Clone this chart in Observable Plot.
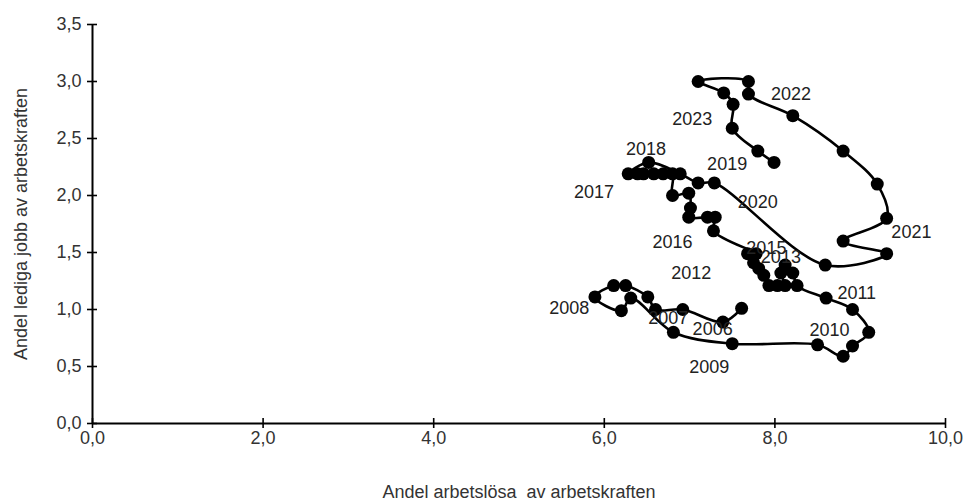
<!DOCTYPE html>
<html><head><meta charset="utf-8">
<script src="https://cdn.jsdelivr.net/npm/d3@7"></script>
<script src="https://cdn.jsdelivr.net/npm/@observablehq/plot@0.6"></script>
<style>body{margin:0;background:#fff;font-family:"Liberation Sans",Arial,sans-serif}</style>
</head><body><div id="chart"></div>
<script>
// Quarterly observations, in chronological order (2006 → 2023)
const unemployment = [
  7.61, 7.39, 6.92, 6.60, 6.51, 6.25, 6.11, 5.89, 6.20, 6.31, 6.81, 7.50,
  8.50, 8.80, 8.91, 9.10, 8.91, 8.60,
  8.26, 8.21, 8.12, 8.07, 8.12, 8.03, 7.93, 7.87, 7.81, 7.75, 7.68, 7.78,
  7.28, 7.30, 7.21, 6.99, 7.01, 6.99, 6.80,
  6.80, 6.69, 6.58, 6.46, 6.39, 6.28, 6.52, 6.89, 7.10, 7.29,
  8.59, 9.31, 8.80, 9.31, 9.20, 8.80, 8.21, 7.69, 7.69, 7.10, 7.40, 7.51, 7.50, 7.80, 7.99
];
const vacancies = [
  1.01, 0.89, 1.00, 1.00, 1.11, 1.21, 1.21, 1.11, 0.99, 1.10, 0.80, 0.70,
  0.69, 0.59, 0.68, 0.80, 1.00, 1.10,
  1.21, 1.32, 1.39, 1.32, 1.21, 1.21, 1.21, 1.30, 1.36, 1.41, 1.49, 1.49,
  1.69, 1.81, 1.81, 1.81, 1.89, 2.02, 2.00,
  2.19, 2.19, 2.19, 2.19, 2.19, 2.19, 2.29, 2.19, 2.11, 2.11,
  1.39, 1.49, 1.60, 1.80, 2.10, 2.39, 2.70, 2.89, 3.00, 3.00, 2.90, 2.80, 2.59, 2.39, 2.29
];
// Year labels and where they sit (data units)
const years  = ["2006","2007","2008","2009","2010","2011","2012","2013","2015","2016","2017","2018","2019","2020","2021","2022","2023"];
const yearX  = [7.27, 6.75, 5.59, 7.23, 8.64, 8.96, 7.02, 8.07, 7.90, 6.80, 5.88, 6.49, 7.44, 7.80, 9.60, 8.19, 7.03];
const yearY  = [0.83, 0.92, 1.01, 0.49, 0.82, 1.14, 1.32, 1.46, 1.54, 1.59, 2.03, 2.41, 2.27, 1.94, 1.68, 2.89, 2.67];
const xTicks = [0, 2, 4, 6, 8, 10];
const yTicks = [0, 0.5, 1, 1.5, 2, 2.5, 3, 3.5];
const xTitle = "Andel arbetslösa  av arbetskraften";
const yTitle = "Andel lediga jobb av arbetskraften";

const points = unemployment.map((u, i) => ({u, v: vacancies[i]}));
const labels = years.map((t, i) => ({t, x: yearX[i], y: yearY[i]}));
const fmt = d => d.toFixed(1).replace(".", ",");
const font = 18;

const chart = Plot.plot({
  width: 967,
  height: 500,
  marginLeft: 92,
  marginRight: 22,
  marginTop: 24,
  marginBottom: 77,
  style: {fontFamily: '"Liberation Sans", Arial, sans-serif', fontSize: font + "px", color: "#000", background: "#fff"},
  x: {domain: [0, 10]},
  y: {domain: [0, 3.5]},
  marks: [
    // crossing tick marks
    Plot.axisX(xTicks, {tickSize: 10, dy: -5, strokeWidth: 1.6, tickFormat: () => "", label: null}),
    Plot.axisY(yTicks, {tickSize: 10, dx: 5, strokeWidth: 1.6, tickFormat: () => "", label: null}),
    // tick labels and titles
    Plot.axisX(xTicks, {tickSize: 0, tickPadding: 8, fill: "#333", tickFormat: fmt, fontSize: font,
      label: xTitle, labelAnchor: "center", labelArrow: "none", labelOffset: 74}),
    Plot.axisY(yTicks, {tickSize: 0, tickPadding: 11, fill: "#333", tickFormat: fmt, fontSize: font,
      label: yTitle, labelAnchor: "center", labelArrow: "none", labelOffset: 78}),
    Plot.ruleY([0], {strokeWidth: 2}),
    Plot.ruleX([0], {strokeWidth: 2}),
    Plot.line(points, {x: "u", y: "v", curve: "catmull-rom", stroke: "#000", strokeWidth: 2.6}),
    Plot.dot(points, {x: "u", y: "v", r: 6.5, fill: "#000", stroke: "none"}),
    Plot.text(labels, {x: "x", y: "y", text: "t", fontSize: font, fill: "#222"})
  ]
});
document.getElementById("chart").appendChild(chart);
</script>
</body></html>
